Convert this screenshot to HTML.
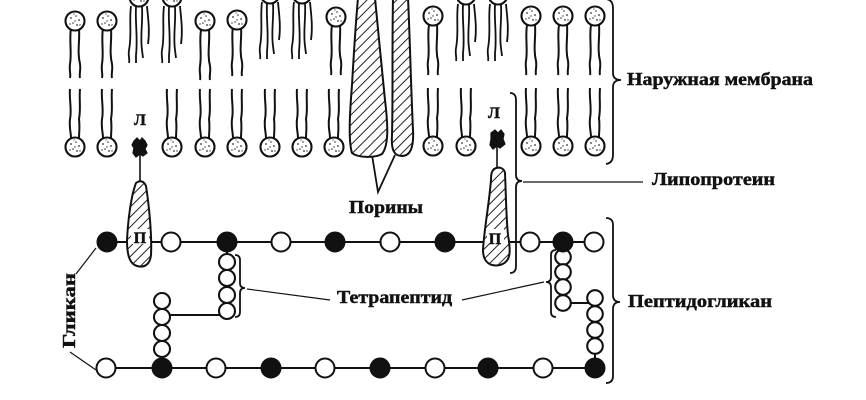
<!DOCTYPE html>
<html><head><meta charset="utf-8"><style>
html,body{margin:0;padding:0;background:#fff;}
svg{display:block;}
text{font-family:"Liberation Serif","DejaVu Serif",serif;font-weight:bold;fill:#111;stroke:#111;stroke-width:0.45;}
</style></head><body>
<svg width="866" height="400" viewBox="0 0 866 400" xmlns="http://www.w3.org/2000/svg">
<defs>
<pattern id="h" patternUnits="userSpaceOnUse" width="7" height="7" patternTransform="rotate(45)">
<rect width="7" height="7" fill="#fff"/>
<line x1="0" y1="0" x2="0" y2="7" stroke="#222" stroke-width="2"/>
</pattern>
<g id="hd">
<circle r="9.5" fill="#fff" stroke="#111" stroke-width="2.1"/>
<circle cx="-4" cy="-3" r="0.9" fill="#333"/><circle cx="1" cy="-5" r="0.8" fill="#333"/>
<circle cx="4" cy="-1" r="0.9" fill="#333"/><circle cx="-2" cy="2" r="0.8" fill="#333"/>
<circle cx="2" cy="4" r="0.9" fill="#333"/><circle cx="-5" cy="3" r="0.7" fill="#333"/>
<circle cx="5" cy="4" r="0.7" fill="#333"/><circle cx="0" cy="0" r="0.7" fill="#333"/>
<circle cx="-1" cy="-7" r="0.6" fill="#333"/>
</g>
<g id="tl" fill="none" stroke="#111" stroke-width="2">
<path d="M-4,28 C-6,40 -3,52 -5,64 C-6,70 -4,74 -5,78"/>
<path d="M4,28 C5,40 2,52 5,64 C6,70 4,74 5,78"/>
</g>
<g id="bl" fill="none" stroke="#111" stroke-width="2">
<path d="M-5,-58 C-6,-48 -3,-38 -5,-28 C-6,-20 -4,-14 -4,-9"/>
<path d="M5,-58 C4,-48 6,-38 4,-28 C5,-20 4,-14 4,-9"/>
</g>
<g id="pt" fill="none" stroke="#111" stroke-width="1.8">
<path d="M-8,6 C-10,20 -7,35 -10,50 C-11,56 -9,60 -10,63"/>
<path d="M-3,7 C-4,22 -1,38 -3,55 L-3,63"/>
<path d="M3,7 C4,22 1,36 3,50 L4,58"/>
<path d="M8,6 C9,18 11,30 9,44"/>
</g>
</defs>

<!-- top row lipids -->
<g>
<use href="#tl" x="75" y="0"/><use href="#hd" x="75" y="21"/>
<use href="#tl" x="107" y="0"/><use href="#hd" x="107" y="21"/>
<use href="#tl" x="205" y="2"/><use href="#hd" x="205" y="21"/>
<use href="#tl" x="237" y="-2"/><use href="#hd" x="237" y="20"/>
<use href="#tl" x="336" y="-3"/><use href="#hd" x="336" y="17"/>
<use href="#tl" x="433" y="-3"/><use href="#hd" x="433" y="16"/>
<use href="#tl" x="531" y="-3"/><use href="#hd" x="531" y="16"/>
<use href="#tl" x="563" y="-3"/><use href="#hd" x="563" y="16"/>
<use href="#tl" x="595" y="-3"/><use href="#hd" x="595" y="16"/>
<use href="#pt" x="139" y="0"/><use href="#hd" x="139" y="-3"/>
<use href="#pt" x="172" y="0"/><use href="#hd" x="172" y="-3"/>
<use href="#pt" x="270" y="-4"/><use href="#hd" x="270" y="-6"/>
<use href="#pt" x="302" y="-4"/><use href="#hd" x="302" y="-6"/>
<use href="#pt" x="466" y="-2"/><use href="#hd" x="466" y="-5"/>
<use href="#pt" x="498" y="-2"/><use href="#hd" x="498" y="-5"/>
</g>
<!-- bottom row lipids -->
<g>
<use href="#bl" x="75" y="147"/><use href="#hd" x="75" y="147"/>
<use href="#bl" x="107" y="147"/><use href="#hd" x="107" y="147"/>
<use href="#bl" x="172" y="147"/><use href="#hd" x="172" y="147"/>
<use href="#bl" x="205" y="147"/><use href="#hd" x="205" y="147"/>
<use href="#bl" x="237" y="147"/><use href="#hd" x="237" y="147"/>
<use href="#bl" x="270" y="147"/><use href="#hd" x="270" y="147"/>
<use href="#bl" x="302" y="147"/><use href="#hd" x="302" y="147"/>
<use href="#bl" x="334" y="147"/><use href="#hd" x="334" y="147"/>
<use href="#bl" x="433" y="146"/><use href="#hd" x="433" y="146"/>
<use href="#bl" x="466" y="146"/><use href="#hd" x="466" y="146"/>
<use href="#bl" x="531" y="146"/><use href="#hd" x="531" y="146"/>
<use href="#bl" x="563" y="146"/><use href="#hd" x="563" y="146"/>
<use href="#bl" x="595" y="146"/><use href="#hd" x="595" y="146"/>
</g>

<!-- porins -->
<path d="M372,155 L378,192 L395,155" fill="none" stroke="#111" stroke-width="1.8"/>
<path d="M358,-2 L375,-2 C378,30 382,70 385,100 C388,125 389,145 382,154 C375,158 358,158 352,153 C348,140 350,110 352,85 C354,50 356,20 358,-2 Z" fill="url(#h)" stroke="#111" stroke-width="2"/>
<path d="M393,-2 L408,-2 C410,40 411,90 413,130 C414,148 410,156 402,156 C394,156 391,150 392,135 C393,100 392,50 393,-2 Z" fill="url(#h)" stroke="#111" stroke-width="2"/>

<!-- glycan chains -->
<line x1="107" y1="242" x2="594" y2="242" stroke="#111" stroke-width="2"/>
<line x1="106" y1="368" x2="595" y2="368" stroke="#111" stroke-width="2"/>

<!-- tetrapeptide connectors -->
<line x1="227" y1="242" x2="227" y2="312" stroke="#111" stroke-width="2"/>
<line x1="162" y1="300" x2="162" y2="368" stroke="#111" stroke-width="2"/>
<line x1="162" y1="315" x2="227" y2="315" stroke="#111" stroke-width="2"/>
<line x1="563" y1="242" x2="563" y2="303" stroke="#111" stroke-width="2"/>
<line x1="595" y1="297" x2="595" y2="368" stroke="#111" stroke-width="2"/>
<line x1="563" y1="303" x2="595" y2="303" stroke="#111" stroke-width="2"/>

<g fill="#fff" stroke="#111" stroke-width="2.1">
<circle cx="227" cy="262" r="8"/><circle cx="227" cy="278" r="8"/><circle cx="227" cy="295" r="8"/><circle cx="227" cy="311" r="8"/>
<circle cx="162" cy="301" r="8"/><circle cx="162" cy="317" r="8"/><circle cx="162" cy="333" r="8"/><circle cx="162" cy="349" r="8"/>
<circle cx="563" cy="257" r="7.8"/><circle cx="563" cy="272" r="7.8"/><circle cx="563" cy="287" r="7.8"/><circle cx="563" cy="303" r="7.8"/>
<circle cx="595" cy="298" r="7.8"/><circle cx="595" cy="314" r="7.8"/><circle cx="595" cy="330" r="7.8"/><circle cx="595" cy="346" r="7.8"/>
</g>

<!-- top chain nodes -->
<g stroke="#111" stroke-width="2">
<circle cx="107" cy="242" r="9.5" fill="#111"/>
<circle cx="171" cy="242" r="9.5" fill="#fff"/>
<circle cx="227" cy="242" r="9.5" fill="#111"/>
<circle cx="281" cy="242" r="9.5" fill="#fff"/>
<circle cx="335" cy="242" r="9.5" fill="#111"/>
<circle cx="390" cy="242" r="9.5" fill="#fff"/>
<circle cx="445" cy="242" r="9.5" fill="#111"/>
<circle cx="530" cy="242" r="9.5" fill="#fff"/>
<circle cx="563" cy="242" r="9.5" fill="#111"/>
<circle cx="594" cy="242" r="9.5" fill="#fff"/>
<!-- bottom chain -->
<circle cx="106" cy="368" r="9.5" fill="#fff"/>
<circle cx="162" cy="368" r="9.5" fill="#111"/>
<circle cx="216" cy="368" r="9.5" fill="#fff"/>
<circle cx="271" cy="368" r="9.5" fill="#111"/>
<circle cx="325" cy="368" r="9.5" fill="#fff"/>
<circle cx="380" cy="368" r="9.5" fill="#111"/>
<circle cx="435" cy="368" r="9.5" fill="#fff"/>
<circle cx="488" cy="368" r="9.5" fill="#111"/>
<circle cx="543" cy="368" r="9.5" fill="#fff"/>
<circle cx="595" cy="368" r="9.5" fill="#111"/>
</g>

<!-- lipoproteins -->
<line x1="140" y1="152" x2="140" y2="183" stroke="#111" stroke-width="1.6"/>
<path d="M136,183 C140,180 144,181 146,186 C149,205 152,235 151,255 C150,265 144,268 137,266 C130,264 127,256 127,240 C128,220 131,196 136,183 Z" fill="url(#h)" stroke="#111" stroke-width="2"/>
<path d="M134,141 L137,138 L140,141 L142,138 L145,141 L147,145 L145,149 L147,153 L143,156 L140,154 L136,157 L133,153 L134,148 L132,145 Z" fill="#111" stroke="#111" stroke-width="1.2"/>
<line x1="497" y1="144" x2="497" y2="169" stroke="#111" stroke-width="1.6"/>
<path d="M494,169 C499,166 504,168 505,173 C506,195 506,215 508,235 C511,252 511,262 500,265 C490,267 483,262 483,250 C484,230 489,205 491,180 C491,173 492,171 494,169 Z" fill="url(#h)" stroke="#111" stroke-width="2"/>
<path d="M491,133 L495,130 L498,133 L501,130 L504,134 L503,139 L505,144 L500,148 L497,146 L493,149 L490,145 L491,139 Z" fill="#111" stroke="#111" stroke-width="1.2"/>

<rect x="131" y="229" width="18" height="15" fill="#fff"/>
<rect x="487" y="229" width="17" height="15" fill="#fff"/>
<text x="140" y="243" font-size="16" text-anchor="middle">П</text>
<text x="495" y="244" font-size="16" text-anchor="middle">П</text>
<text x="140" y="125" font-size="16" text-anchor="middle">Л</text>
<text x="494" y="118" font-size="16" text-anchor="middle">Л</text>

<!-- brackets -->
<g fill="none" stroke="#111" stroke-width="1.8">
<path d="M606,-1 Q613,0 613,8 L613,73 Q613,80 621,80 Q613,80 613,87 L613,155 Q613,163 606,164"/>
<path d="M510,93 Q516,93 516,100 L516,175 Q516,181 522,181 Q516,181 516,187 L516,266 Q516,273 510,273"/>
<path d="M606,218 Q613,218 613,225 L613,295 Q613,302 620,302 Q613,302 613,309 L613,376 Q613,383 606,383"/>
<path d="M235,255 Q240,255 240,260 L240,283 Q240,288 245,288 Q240,288 240,293 L240,312 Q240,317 235,317"/>
<path d="M556,250 Q551,250 551,255 L551,277 Q551,282 546,282 Q551,282 551,287 L551,312 Q551,317 556,317"/>
</g>
<g stroke="#111" stroke-width="1.2">
<line x1="523" y1="182" x2="643" y2="182"/>
<line x1="247" y1="289" x2="330" y2="300"/>
<line x1="462" y1="300" x2="544" y2="282"/>
<line x1="76" y1="274" x2="96" y2="248"/>
<line x1="70" y1="352" x2="96" y2="370"/>
</g>

<!-- labels -->
<text x="627" y="85" font-size="18" textLength="186" lengthAdjust="spacingAndGlyphs">Наружная мембрана</text>
<text x="652" y="185" font-size="18" textLength="123" lengthAdjust="spacingAndGlyphs">Липопротеин</text>
<text x="628" y="307" font-size="18" textLength="144" lengthAdjust="spacingAndGlyphs">Пептидогликан</text>
<text x="349" y="213" font-size="18" textLength="74" lengthAdjust="spacingAndGlyphs">Порины</text>
<text x="337" y="303" font-size="18" textLength="115" lengthAdjust="spacingAndGlyphs">Тетрапептид</text>
<text transform="translate(75,348) rotate(-90)" font-size="18" textLength="75" lengthAdjust="spacingAndGlyphs">Гликан</text>
</svg>
</body></html>
